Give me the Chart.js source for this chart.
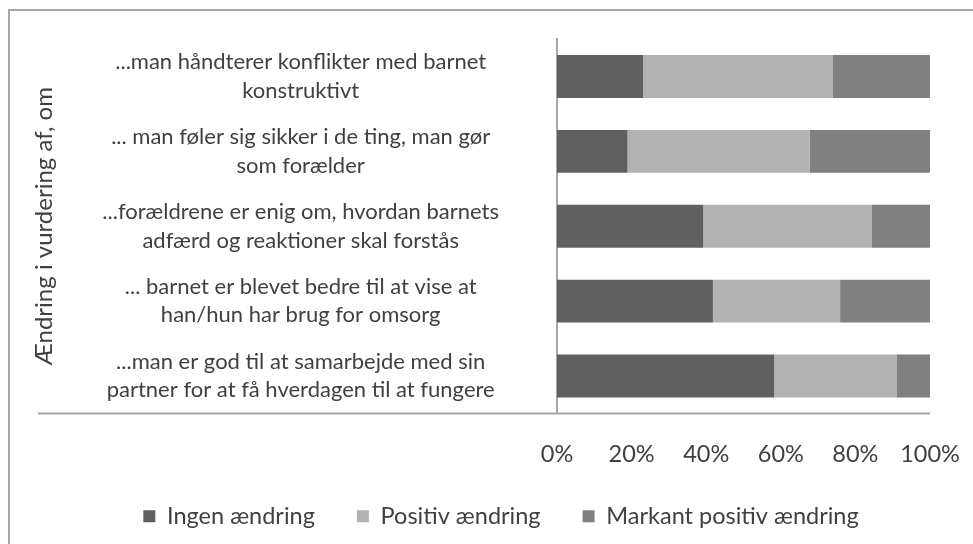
<!DOCTYPE html>
<html>
<head>
<meta charset="utf-8">
<script src="https://cdn.jsdelivr.net/npm/chart.js@4"></script>
<style>
  body { margin: 0; background: #fff; overflow: hidden; }
  #ramme { position: absolute; left: 8px; top: 9px; width: 1000px; height: 600px;
           border-top: 2px solid #a6a6a6; border-left: 2px solid #a6a6a6; }
  #wrap { position: absolute; left: 0; top: 0; width: 973px; height: 544px; }
</style>
</head>
<body>
<div id="ramme"></div>
<div id="wrap"><canvas id="graf"></canvas></div>
<script>
// andel af besvarelser pr. udsagn (procent)
var udsagn = [
  ["...man håndterer konflikter med barnet", "konstruktivt"],
  ["... man føler sig sikker i de ting, man gør", "som forælder"],
  ["...forældrene er enig om, hvordan barnets", "adfærd og reaktioner skal forstås"],
  ["... barnet er blevet bedre til at vise at", "han/hun har brug for omsorg"],
  ["...man er god til at samarbejde med sin", "partner for at få hverdagen til at fungere"]
];
var ingen = [23.1, 18.9, 39.2, 41.8, 58.2];
var positiv = [50.9, 48.9, 45.1, 34.1, 32.8];
var markant = [26.0, 32.2, 15.7, 24.1, 9.0];
var serieNavne = ["Ingen ændring", "Positiv ændring", "Markant positiv ændring"];
var aksetitel = "Ændring i vurdering af, om";

var skrift = "Lato, 'Open Sans', sans-serif";
var tekstfarve = "#404040";

// linjen under kategorierne går helt ud til venstre
var bundlinje = {
  id: "bundlinje",
  afterLayout: function(chart) {
    // forklaringen sidder lidt til højre i originalen
    chart.legend.left += 22;
    chart.legend.right += 22;
  },
  afterDraw: function(chart) {
    var c = chart.ctx, a = chart.chartArea;
    c.save();
    c.strokeStyle = "#a6a6a6";
    c.lineWidth = 2;
    c.beginPath();
    c.moveTo(chart.scales.y.left + 10, a.bottom);
    c.lineTo(a.right, a.bottom);
    c.stroke();
    c.restore();
  }
};

new Chart(document.getElementById("graf"), {
  type: "bar",
  data: {
    labels: udsagn,
    datasets: [
      { label: serieNavne[0], data: ingen, backgroundColor: "#606060" },
      { label: serieNavne[1], data: positiv, backgroundColor: "#b2b2b2" },
      { label: serieNavne[2], data: markant, backgroundColor: "#808080" }
    ]
  },
  options: {
    indexAxis: "y",
    responsive: true,
    maintainAspectRatio: false,
    animation: false,
    layout: { padding: { left: 28, right: 43, top: 39, bottom: 6 } },
    datasets: { bar: { categoryPercentage: 1, barPercentage: 0.573 } },
    plugins: {
      tooltip: { enabled: false },
      legend: {
        position: "bottom",
        labels: {
          color: tekstfarve,
          font: { family: skrift, size: 23.5 },
          boxWidth: 12,
          boxHeight: 12,
          padding: 42
        }
      }
    },
    scales: {
      x: {
        stacked: true,
        min: 0,
        max: 100,
        grid: { display: false, drawTicks: false },
        border: { display: false },
        ticks: {
          stepSize: 20,
          padding: 27,
          color: tekstfarve,
          font: { family: skrift, size: 23.5 },
          callback: function(v) { return v + "%"; }
        },
        afterFit: function(s) { s.height = 49; s.paddingLeft = 0; s.paddingRight = 0; }
      },
      y: {
        stacked: true,
        grid: { display: false, drawTicks: false },
        border: { display: true, color: "#a6a6a6", width: 2 },
        title: {
          display: true,
          text: aksetitel,
          color: tekstfarve,
          font: { family: skrift, size: 24 },
          padding: { top: 2, bottom: 0 }
        },
        ticks: {
          crossAlign: "center",
          padding: 58,
          color: tekstfarve,
          font: { family: skrift, size: 22, lineHeight: 1.29 }
        },
        afterFit: function(s) { s.width = 529; s.paddingTop = 0; s.paddingBottom = 0; }
      }
    }
  },
  plugins: [bundlinje]
});
</script>
</body>
</html>
